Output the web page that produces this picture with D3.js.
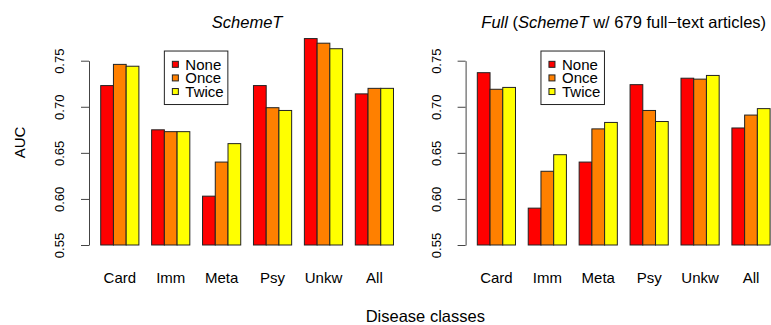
<!DOCTYPE html>
<html>
<head>
<meta charset="utf-8">
<script src="https://cdn.jsdelivr.net/npm/d3@7"></script>
<style>
  html, body { margin: 0; padding: 0; background: #fff; }
  svg { display: block; font-family: "Liberation Sans", Arial, Helvetica, sans-serif; }
</style>
</head>
<body>
<svg id="chart" width="771" height="325"></svg>
<script>
// ---- data ----
const categories = ["Card", "Imm", "Meta", "Psy", "Unkw", "All"];
const seriesNames = ["None", "Once", "Twice"];
const seriesColors = ["#FF0000", "#FF8000", "#FFFF00"];

const schemeT_None  = [0.723, 0.675, 0.603, 0.723, 0.774, 0.714];
const schemeT_Once  = [0.746, 0.673, 0.640, 0.699, 0.769, 0.720];
const schemeT_Twice = [0.744, 0.673, 0.660, 0.696, 0.763, 0.720];

const full_None  = [0.737, 0.590, 0.640, 0.724, 0.731, 0.677];
const full_Once  = [0.719, 0.630, 0.676, 0.696, 0.730, 0.691];
const full_Twice = [0.721, 0.648, 0.683, 0.684, 0.734, 0.698];

const yTicks = [0.55, 0.60, 0.65, 0.70, 0.75];
const yMin = 0.55, yMax = 0.75;

const panels = [
  { titleParts: [{t: "SchemeT", it: true}], series: [schemeT_None, schemeT_Once, schemeT_Twice], x0: 89, x1: 405.2 },
  { titleParts: [{t: "Full", it: true}, {t: " (", it: false}, {t: "SchemeT", it: true}, {t: " w/ 679 full\u2212text articles)", it: false}],
    series: [full_None, full_Once, full_Twice], x0: 465.6, x1: 781.8 }
];

const svg = d3.select("#chart");
svg.append("rect").attr("width", 771).attr("height", 325).attr("fill", "#fff");

const y = d3.scaleLinear().domain([yMin, yMax]).range([245, 60.7]);

panels.forEach(p => {
  const g = svg.append("g");
  const x = d3.scaleBand().domain(categories).range([p.x0, p.x1]).paddingInner(0.25).paddingOuter(0.23);
  const xs = d3.scaleBand().domain(seriesNames).range([0, x.bandwidth()]).padding(0);

  // bars
  categories.forEach((c, ci) => {
    seriesNames.forEach((s, si) => {
      const v = p.series[si][ci];
      g.append("rect")
        .attr("x", x(c) + xs(s))
        .attr("y", y(v))
        .attr("width", xs.bandwidth())
        .attr("height", y(yMin) - y(v))
        .attr("fill", seriesColors[si])
        .attr("stroke", "#222")
        .attr("stroke-width", 1);
    });
  });

  // y axis
  const ax = g.append("g")
    .attr("transform", `translate(${p.x0},0)`)
    .call(d3.axisLeft(y).tickValues(yTicks).tickSize(8).tickSizeOuter(0).tickFormat(d3.format(".2f")));
  ax.select(".domain").attr("stroke", "#444");
  ax.selectAll(".tick line").attr("stroke", "#444");
  ax.selectAll(".tick text")
    .attr("x", 0).attr("y", 0).attr("dy", 0)
    .attr("transform", "translate(-25,0) rotate(-90)")
    .attr("text-anchor", "middle")
    .attr("font-size", 13)
    .attr("fill", "#000")
    .attr("font-family", "Liberation Sans, Arial, sans-serif");

  // category labels
  g.selectAll("text.cat").data(categories).enter().append("text")
    .attr("class", "cat")
    .attr("x", d => x(d) + x.bandwidth() / 2)
    .attr("y", 282.5)
    .attr("text-anchor", "middle")
    .attr("font-size", 15)
    .text(d => d);

  // title
  const t = g.append("text")
    .attr("x", (p.x0 + p.x1) / 2)
    .attr("y", 28)
    .attr("text-anchor", "middle")
    .attr("font-size", 16.5);
  p.titleParts.forEach(tp => {
    t.append("tspan").attr("font-style", tp.it ? "italic" : "normal").text(tp.t);
  });

  // legend
  const lx = x(categories[1]) + x.step() * 0.0 - x.step() * 0.0; // anchored near Imm group
  const legX = x(categories[0]) + x.step() * 1.25;
  const legY = y(0.7605);
  const leg = g.append("g").attr("transform", `translate(${legX},${legY})`);
  leg.append("rect").attr("x", 0).attr("y", 0).attr("width", 63.5).attr("height", 53.5)
    .attr("fill", "#fff").attr("stroke", "#222").attr("stroke-width", 1);
  seriesNames.forEach((s, si) => {
    const cy = 13.3 + si * 13.6;
    leg.append("rect").attr("x", 8).attr("y", cy - 3).attr("width", 6).attr("height", 6)
      .attr("fill", seriesColors[si]).attr("stroke", "#222").attr("stroke-width", 1);
    leg.append("text").attr("x", 21).attr("y", cy + 5.4).attr("font-size", 15).text(s);
  });
});

// axis titles
svg.append("text")
  .attr("transform", "translate(24.5,142.5) rotate(-90)")
  .attr("text-anchor", "middle")
  .attr("font-size", 15)
  .text("AUC");

svg.append("text")
  .attr("x", 425.3)
  .attr("y", 322.3)
  .attr("text-anchor", "middle")
  .attr("font-size", 16.5)
  .text("Disease classes");
</script>
</body>
</html>
